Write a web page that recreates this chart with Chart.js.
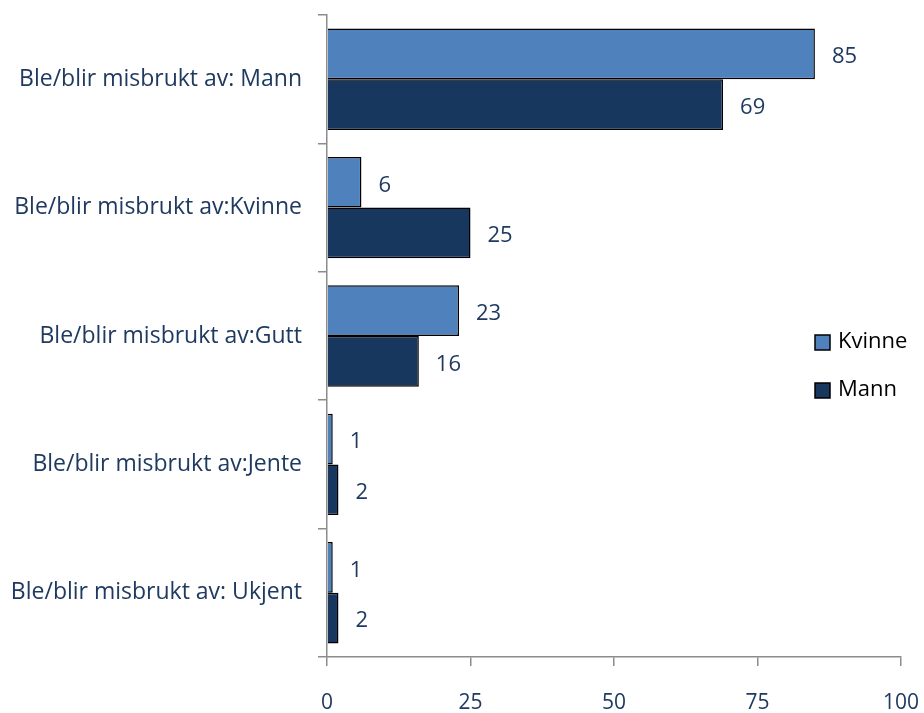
<!DOCTYPE html>
<html>
<head>
	<title>Misbrukt av</title>
	<script src="https://cdn.jsdelivr.net/npm/chart.js"></script>
	<style>
		body { margin: 0; padding: 0; background: #fff; }
		.wrap { width: 924px; height: 713px; }
	</style>
</head>
<body>
	<div class="wrap"><canvas id="myChart"></canvas></div>
	<script>
		var categories = ['Ble/blir misbrukt av: Mann', 'Ble/blir misbrukt av:Kvinne', 'Ble/blir misbrukt av:Gutt', 'Ble/blir misbrukt av:Jente', 'Ble/blir misbrukt av: Ukjent'];
		var kvinne = [85, 6, 23, 1, 1];
		var mann = [69, 25, 16, 2, 2];
		var xTicks = [0, 25, 50, 75, 100];

		var textColor = '#1F3A60';
		var fontFamily = 'Open Sans, Noto Sans, sans-serif';

		// value labels next to each bar
		var valueLabels = {
			id: 'valueLabels',
			afterDatasetsDraw: function(chart) {
				var ctx = chart.ctx;
				ctx.save();
				ctx.fillStyle = textColor;
				ctx.font = '22px ' + fontFamily;
				ctx.textBaseline = 'middle';
				ctx.textAlign = 'left';
				chart.data.datasets.forEach(function(ds, i) {
					chart.getDatasetMeta(i).data.forEach(function(bar, j) {
						ctx.fillText(ds.data[j], bar.x + 17, bar.y + 3);
					});
				});
				ctx.restore();
			}
		};

		// legend drawn inside the plot on the right
		var sideLegend = {
			id: 'sideLegend',
			afterDraw: function(chart) {
				var ctx = chart.ctx;
				ctx.save();
				ctx.font = '22px ' + fontFamily;
				ctx.textBaseline = 'middle';
				chart.data.datasets.forEach(function(ds, i) {
					var y = 342 + i * 48;
					ctx.fillStyle = ds.backgroundColor;
					ctx.fillRect(815, y - 7, 15, 15);
					ctx.lineWidth = 1.5;
					ctx.strokeStyle = '#000';
					ctx.strokeRect(815, y - 7, 15, 15);
					ctx.fillStyle = '#000';
					ctx.fillText(ds.label, 838, y);
				});
				ctx.restore();
			}
		};

		var ctx1 = document.getElementById('myChart').getContext('2d');
		var chart1 = new Chart(ctx1, {
			type: 'bar',
			data: {
				labels: categories,
				datasets: [
					{ label: 'Kvinne', data: kvinne, backgroundColor: '#4F81BD', borderColor: '#000', borderWidth: 1.5 },
					{ label: 'Mann', data: mann, backgroundColor: '#17375E', borderColor: '#000', borderWidth: 1.5 }
				]
			},
			options: {
				indexAxis: 'y',
				responsive: true,
				maintainAspectRatio: false,
				animation: false,
				layout: { padding: { left: 0, right: 23, top: 15, bottom: 0 } },
				datasets: { bar: { categoryPercentage: 0.79, barPercentage: 1 } },
				plugins: {
					legend: { display: false },
					tooltip: { enabled: false }
				},
				scales: {
					x: {
						min: 0,
						max: 100,
						afterBuildTicks: function(s) { s.ticks = xTicks.map(function(v) { return { value: v }; }); },
						grid: { drawOnChartArea: false, color: '#8C8C8C', tickLength: 9, lineWidth: 1.5 },
						border: { color: '#8C8C8C', width: 1.5 },
						ticks: { color: textColor, font: { size: 21, family: fontFamily }, padding: 24 },
						afterFit: function(s) { s.height = 56; s.paddingLeft = 0; s.paddingRight = 0; }
					},
					y: {
						grid: { drawOnChartArea: false, color: '#8C8C8C', tickLength: 9, lineWidth: 1.5, offset: true },
						border: { color: '#8C8C8C', width: 1.5 },
						ticks: { color: textColor, font: { size: 23, family: fontFamily }, padding: 16 },
						afterFit: function(s) { s.width = 327; s.paddingTop = 0; s.paddingBottom = 0; }
					}
				}
			},
			plugins: [valueLabels, sideLegend]
		});
	</script>
</body>
</html>
